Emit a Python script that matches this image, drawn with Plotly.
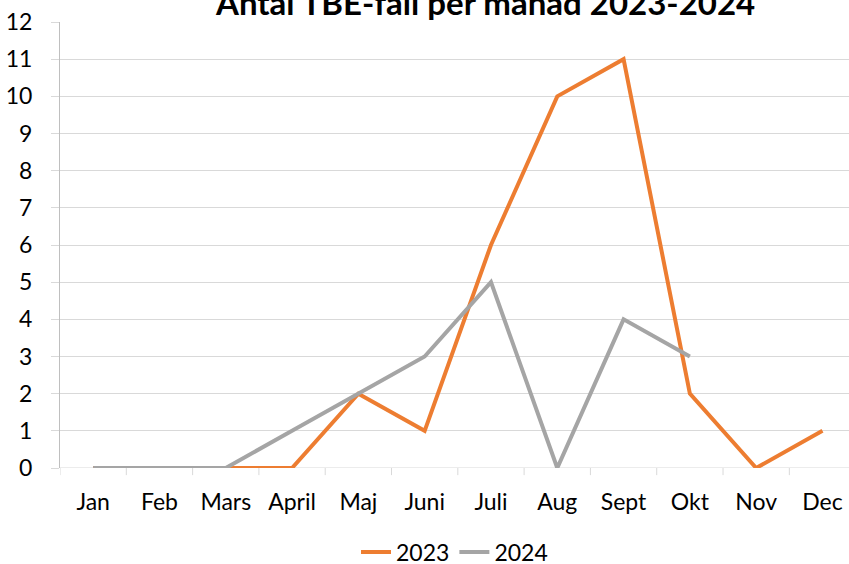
import plotly.graph_objects as go

months = ["Jan", "Feb", "Mars", "April", "Maj", "Juni", "Juli", "Aug", "Sept", "Okt", "Nov", "Dec"]
cases_2023 = [0, 0, 0, 0, 2, 1, 6, 10, 11, 2, 0, 1]
cases_2024 = [0, 0, 0, 1, 2, 3, 5, 0, 4, 3]
y_ticks = list(range(0, 13))

FONT = "Lato"

fig = go.Figure()
fig.add_trace(go.Scatter(x=months, y=cases_2023, mode="lines", name="2023",
                         line=dict(color="#ED7D31", width=4)))
fig.add_trace(go.Scatter(x=months[:len(cases_2024)], y=cases_2024, mode="lines", name="2024",
                         line=dict(color="#A5A5A5", width=4)))

fig.update_layout(
    width=849, height=564,
    margin=dict(l=60, r=0, t=22, b=96, autoexpand=False),
    paper_bgcolor="white", plot_bgcolor="white",
    font=dict(family=FONT, size=23, color="black"),
    showlegend=True,
    legend=dict(orientation="h", x=0.5, xanchor="center", y=-0.14, yanchor="top",
                font=dict(size=23), itemwidth=30, tracegroupgap=0),
    annotations=[dict(text="<b>Antal TBE-fall per månad 2023-2024</b>", xref="paper", yref="paper",
                      x=0.5385, y=0.995, yanchor="bottom", xanchor="center", showarrow=False,
                      font=dict(family=FONT, size=33, color="black"))],
)
fig.update_xaxes(
    type="category", range=[-0.5, 11.4], automargin=False,
    showgrid=False, showline=False, zeroline=False,
    ticks="", tickfont=dict(size=23), ticklabelstandoff=18,
)
fig.update_yaxes(
    range=[0, 12], tickvals=y_ticks, showgrid=True, gridcolor="#D9D9D9", gridwidth=1,
    automargin=False,
    showline=True, linecolor="#BFBFBF", linewidth=1, zeroline=False,
    ticks="outside", ticklen=8, tickcolor="#D9D9D9", tickfont=dict(size=23),
    ticklabelstandoff=14,
)
# x axis baseline with tick marks between categories
fig.add_shape(type="line", xref="paper", yref="y", x0=0, x1=1, y0=0, y1=0,
              line=dict(color="#D9D9D9", width=1), layer="below")
for i in range(len(months)):
    fig.add_shape(type="line", xref="x", yref="paper", x0=i - 0.5, x1=i - 0.5, y0=0, y1=-0.016,
                  line=dict(color="#D9D9D9", width=1))

fig.write_html("out.html", config={"displayModeBar": False},
               post_script="document.body.style.margin='0';document.body.style.padding='0';"
                           "document.body.style.overflow='hidden';")
